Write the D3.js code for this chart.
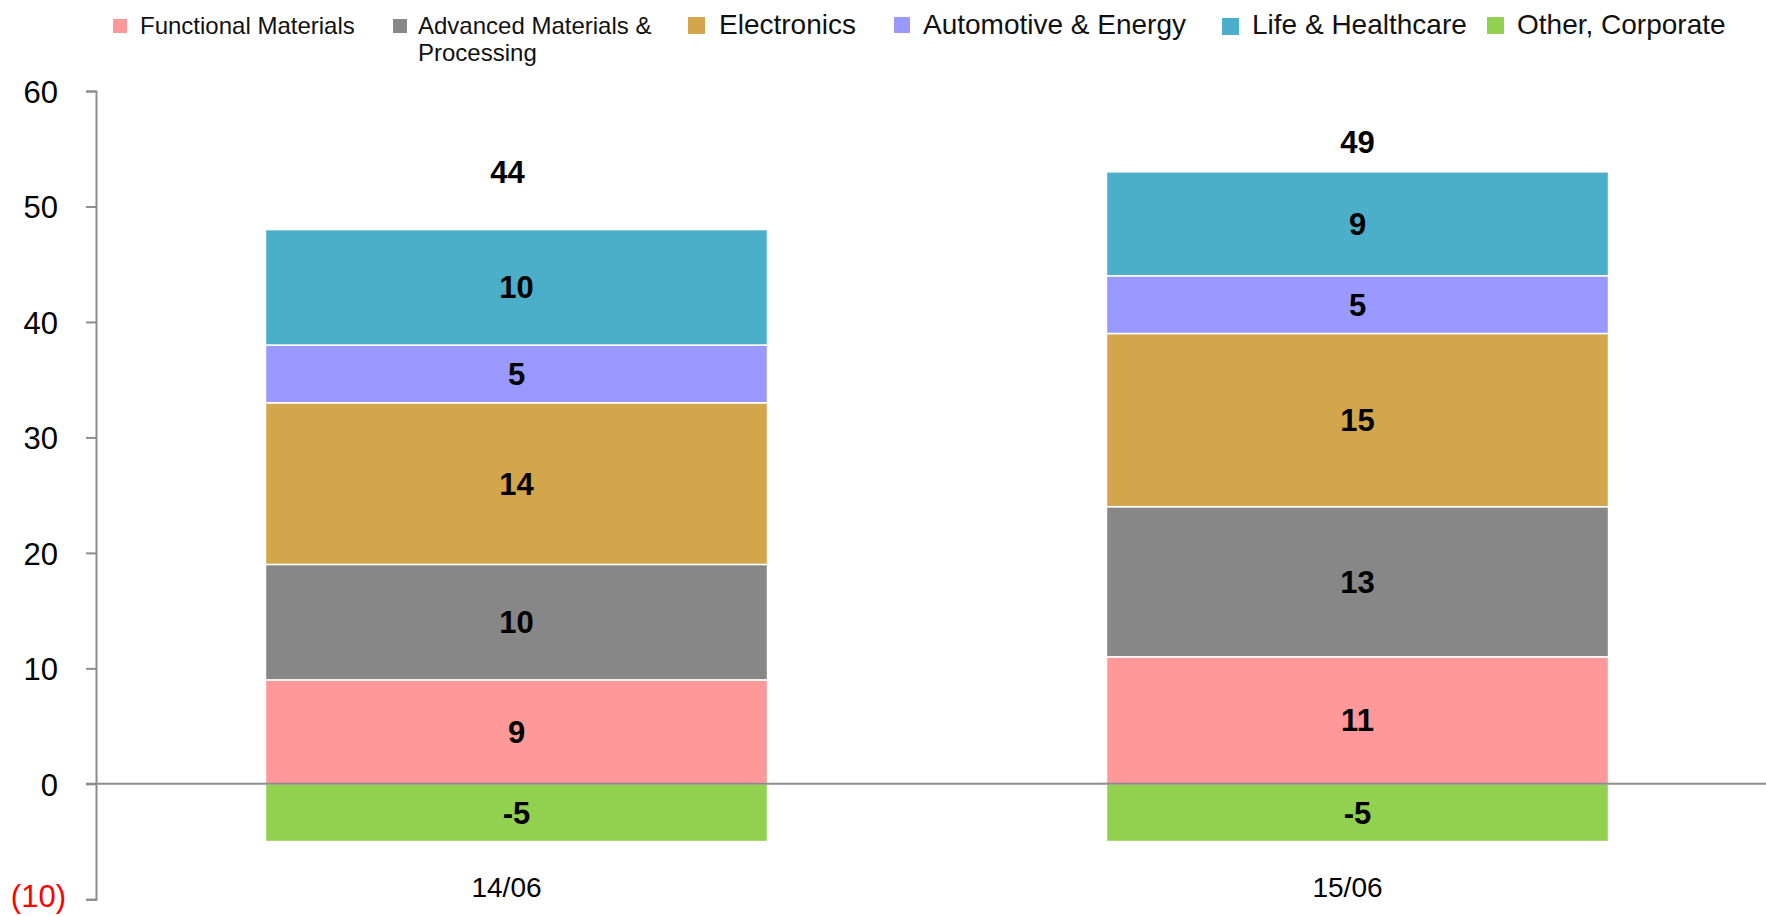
<!DOCTYPE html>
<html>
<head>
<meta charset="utf-8">
<script src="https://cdn.jsdelivr.net/npm/d3@7"></script>
<style>
  html, body { margin: 0; padding: 0; background: #ffffff; }
  svg { display: block; }
  text { font-family: "Liberation Sans", Arial, sans-serif; }
</style>
</head>
<body>
<svg id="chart" width="1766" height="916"></svg>
<script>
// ---- data ----
const categories = ["14/06", "15/06"];
const seriesNames = ["Functional Materials", "Advanced Materials & Processing", "Electronics", "Automotive & Energy", "Life & Healthcare", "Other, Corporate"];
const functionalMaterials = [9, 11];
const advancedMaterials = [10, 13];
const electronics = [14, 15];
const automotiveEnergy = [5, 5];
const lifeHealthcare = [10, 9];
const otherCorporate = [-5, -5];
const totals = [44, 49];
const yTicks = [-10, 0, 10, 20, 30, 40, 50, 60];

// ---- styling / layout ----
const colors = ["#FF9999", "#878787", "#D4A64C", "#9999FF", "#4BAFC9", "#92D050"];
const legendLayout = [
  { x: 113, size: 14, y: 19, tx: 27, fs: 24, lines: ["Functional Materials"] },
  { x: 393, size: 14, y: 19, tx: 25, fs: 24, lines: ["Advanced Materials &", "Processing"] },
  { x: 688, size: 17, y: 17, tx: 31, fs: 28, lines: ["Electronics"] },
  { x: 894, size: 16, y: 17, tx: 29, fs: 28, lines: ["Automotive & Energy"] },
  { x: 1222, size: 17, y: 18, tx: 30, fs: 28, lines: ["Life & Healthcare"] },
  { x: 1487, size: 17, y: 17, tx: 30, fs: 28, lines: ["Other, Corporate"] }
];
const totalLabelGap = [47, 19];

const svg = d3.select("#chart");
const W = 1766, H = 916;

const y = d3.scaleLinear().domain([-10, 60]).range([899.3, 91]);
const x = d3.scaleBand().domain(categories).range([96, 1778]).paddingInner(0.403).paddingOuter(0.2015);

const seriesArrays = [functionalMaterials, advancedMaterials, electronics, automotiveEnergy, lifeHealthcare, otherCorporate];
const rows = categories.map((c, i) => {
  const r = { cat: c };
  seriesNames.forEach((s, k) => r[s] = seriesArrays[k][i]);
  return r;
});
const stack = d3.stack().keys(seriesNames).offset(d3.stackOffsetDiverging);
const stacked = stack(rows);

// bars
const g = svg.append("g");
stacked.forEach((layer, k) => {
  const lg = g.append("g").attr("fill", colors[k]);
  lg.selectAll("rect").data(layer).join("rect")
    .attr("x", d => x(d.data.cat))
    .attr("width", x.bandwidth())
    .attr("y", d => y(Math.max(d[0], d[1])))
    .attr("height", d => Math.abs(y(d[0]) - y(d[1])))
    .attr("stroke", "#ffffff")
    .attr("stroke-width", 1.5);
  lg.selectAll("text").data(layer).join("text")
    .attr("x", d => x(d.data.cat) + x.bandwidth() / 2)
    .attr("y", d => (y(d[0]) + y(d[1])) / 2)
    .attr("dy", "0.36em")
    .attr("text-anchor", "middle")
    .attr("font-size", 31)
    .attr("font-weight", "bold")
    .attr("fill", "#000")
    .text(d => d.data[layer.key]);
});

// totals
const topOf = categories.map((c, i) => d3.max(stacked, l => Math.max(l[i][0], l[i][1])));
svg.append("g").selectAll("text").data(totals).join("text")
  .attr("x", (d, i) => x(categories[i]) + x.bandwidth() / 2 - (i === 0 ? 9 : 0))
  .attr("y", (d, i) => y(topOf[i]) - totalLabelGap[i])
  .attr("text-anchor", "middle")
  .attr("font-size", 31)
  .attr("font-weight", "bold")
  .attr("fill", "#000")
  .text(d => d);

// zero line
svg.append("line")
  .attr("x1", 86).attr("x2", W)
  .attr("y1", y(0)).attr("y2", y(0))
  .attr("stroke", "#8c8c8c").attr("stroke-width", 2);

// y axis
const yAxis = d3.axisLeft(y).tickValues(yTicks).tickSize(10).tickPadding(20)
  .tickFormat(d => d < 0 ? "(" + Math.abs(d) + ")" : d);
const ya = svg.append("g").attr("transform", "translate(96,0)").call(yAxis);
ya.select(".domain").attr("stroke", "#8c8c8c").attr("stroke-width", 2);
ya.selectAll(".tick line").attr("stroke", "#8c8c8c").attr("stroke-width", 2);
ya.selectAll(".tick text")
  .attr("font-family", "'Liberation Sans', Arial, sans-serif")
  .attr("font-size", 31)
  .attr("fill", d => d < 0 ? "#ff0000" : "#000")
  .attr("dx", d => d < 0 ? 0 : -8)
  .attr("dy", d => d < 0 ? "0.22em" : "0.36em");

// x category labels
svg.append("g").selectAll("text").data(categories).join("text")
  .attr("x", d => x(d) + x.bandwidth() / 2 - 10)
  .attr("y", 897)
  .attr("text-anchor", "middle")
  .attr("font-family", "'DejaVu Sans Condensed', 'Liberation Sans Narrow', sans-serif")
  .attr("font-size", 28)
  .attr("fill", "#000")
  .text(d => d);

// legend
const leg = svg.append("g");
legendLayout.forEach((L, k) => {
  leg.append("rect").attr("x", L.x).attr("y", L.y).attr("width", L.size).attr("height", L.size).attr("fill", colors[k]);
  const t = leg.append("text").attr("x", L.x + L.tx).attr("y", 34).attr("font-size", L.fs).attr("fill", "#111");
  L.lines.forEach((ln, j) => {
    t.append("tspan").attr("x", L.x + L.tx).attr("dy", j === 0 ? 0 : 27).text(ln);
  });
});
</script>
</body>
</html>
